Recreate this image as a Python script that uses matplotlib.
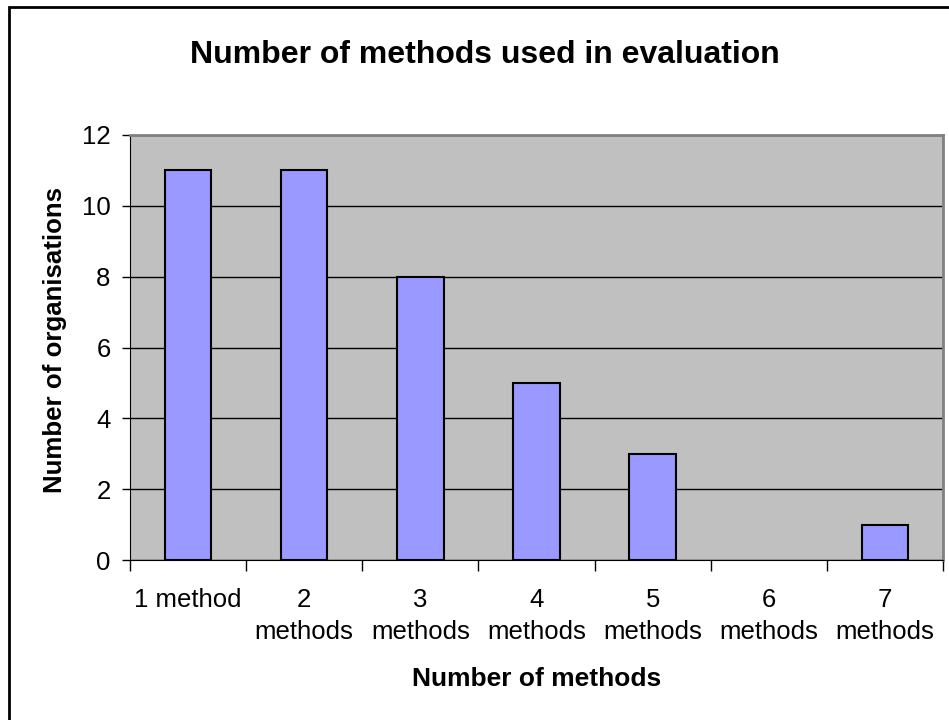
import matplotlib.pyplot as plt
from matplotlib.patches import Rectangle

categories = ["1 method", "2\nmethods", "3\nmethods", "4\nmethods",
              "5\nmethods", "6\nmethods", "7\nmethods"]
counts = [11, 11, 8, 5, 3, 0, 1]

plt.rcParams["font.family"] = ["Liberation Sans", "DejaVu Sans"]

fig = plt.figure(figsize=(9.49, 7.2), dpi=100)
ax = fig.add_axes([130 / 949, 1 - 560 / 720, 813 / 949, 425 / 720])
ax.set_facecolor("#C0C0C0")

x = list(range(len(categories)))
edges = ["black" if c > 0 else "none" for c in counts]
ax.bar(x, counts, width=0.4, color="#9999FF", edgecolor=edges, linewidth=1.5, zorder=3)

ax.set_xlim(-0.5, len(categories) - 0.5)
ax.set_ylim(0, 12)
ax.set_yticks(range(0, 13, 2))
ax.yaxis.grid(True, color="black", linewidth=1, zorder=1)
ax.set_axisbelow(True)

ax.set_xticks([i - 0.5 for i in range(len(categories) + 1)])
ax.set_xticklabels([])
ax.set_xticks(x, minor=True)
ax.set_xticklabels(categories, minor=True, fontsize=18.5, va="top", linespacing=1.45)
ax.tick_params(axis="x", which="major", direction="out", length=8, width=1)
ax.tick_params(axis="x", which="minor", length=0, pad=20)
ax.tick_params(axis="y", direction="out", length=6, width=1, labelsize=18.5, pad=8)

for side in ["top", "right"]:
    ax.spines[side].set_color("#808080")
    ax.spines[side].set_linewidth(2)
ax.spines["left"].set_color("black")
ax.spines["bottom"].set_color("black")

fig.text(485 / 949, 1 - 63 / 720, "Number of methods used in evaluation",
         ha="center", va="baseline", fontsize=23, fontweight="bold")
fig.text(537 / 949, 1 - 686 / 720, "Number of methods", ha="center", va="baseline",
         fontsize=19, fontweight="bold")
fig.text(55 / 949, 1 - 340 / 720, "Number of organisations", ha="center", va="center",
         rotation=90, fontsize=18.6, fontweight="bold")

# outer chart border (only left/top visible in the crop)
fig.patches.append(Rectangle((9 / 949, -0.1), 1.1, 1 - 7 / 720 + 0.1, transform=fig.transFigure,
                             fill=False, edgecolor="black", linewidth=2))

fig.savefig("out.png", dpi=100)
